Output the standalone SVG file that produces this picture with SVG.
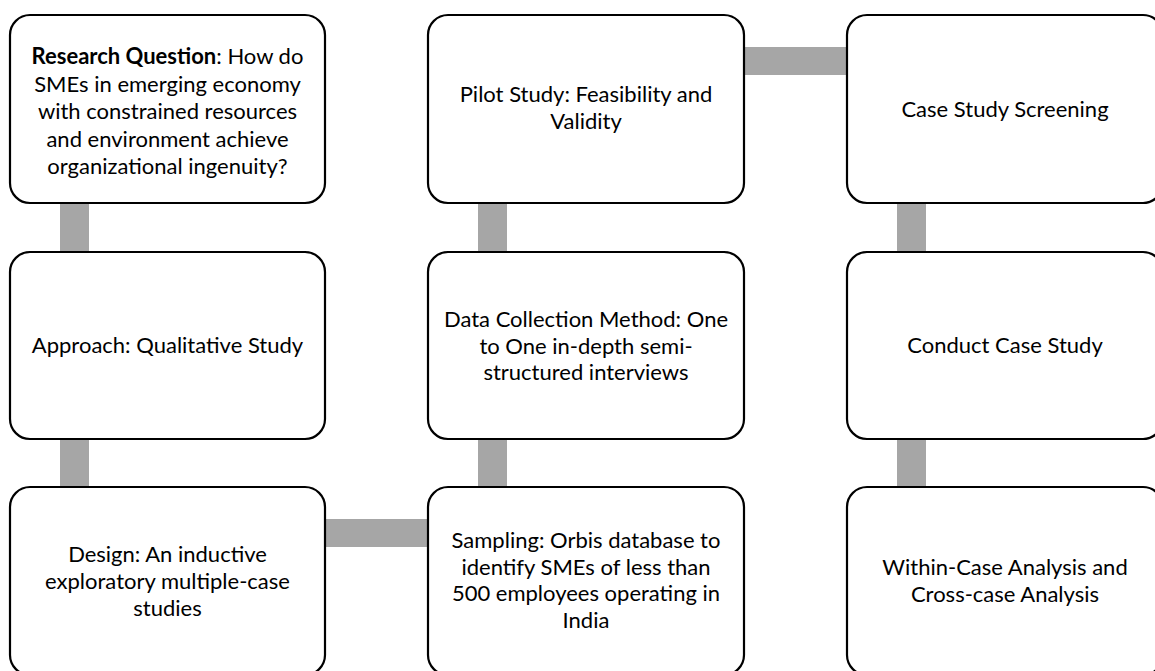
<svg xmlns="http://www.w3.org/2000/svg" width="1155" height="671" viewBox="0 0 1155 671">
  <style>
    .box { fill: #ffffff; stroke: #000000; stroke-width: 2.2; }
    .bar { fill: #a6a6a6; }
    text { font-family: "Lato", "Liberation Sans", sans-serif; font-size: 22px; fill: #000000; text-anchor: middle; }
    .b { font-weight: bold; }
  </style>
  <rect width="1155" height="671" fill="#ffffff"/>

  <!-- connectors: thick grey bars joining the steps -->
  <g id="connectors">
    <rect class="bar" x="60" y="200" width="29" height="55"/>
    <rect class="bar" x="60" y="436" width="29" height="54"/>
    <rect class="bar" x="322" y="519" width="109" height="28"/>
    <rect class="bar" x="478" y="436" width="29" height="54"/>
    <rect class="bar" x="478" y="200" width="29" height="55"/>
    <rect class="bar" x="741" y="47" width="109" height="28"/>
    <rect class="bar" x="897" y="200" width="29" height="55"/>
    <rect class="bar" x="897" y="436" width="29" height="54"/>
  </g>

  <g id="research-question">
    <rect class="box" x="10" y="15" width="315" height="188" rx="20"/>
    <text x="167.5" y="64"><tspan class="b">Research Question</tspan>: How do</text>
    <text x="167.5" y="91.5">SMEs in emerging economy</text>
    <text x="167.5" y="119">with constrained resources</text>
    <text x="167.5" y="146.5">and environment achieve</text>
    <text x="167.5" y="174">organizational ingenuity?</text>
  </g>

  <g id="approach">
    <rect class="box" x="10" y="252" width="315" height="187" rx="20"/>
    <text x="167.5" y="353">Approach: Qualitative Study</text>
  </g>

  <g id="design">
    <rect class="box" x="10" y="487" width="315" height="188" rx="20"/>
    <text x="167.5" y="562">Design: An inductive</text>
    <text x="167.5" y="589">exploratory multiple-case</text>
    <text x="167.5" y="616">studies</text>
  </g>

  <g id="sampling">
    <rect class="box" x="428" y="487" width="316" height="188" rx="20"/>
    <text x="586" y="548">Sampling: Orbis database to</text>
    <text x="586" y="574.5">identify SMEs of less than</text>
    <text x="586" y="601">500 employees operating in</text>
    <text x="586" y="627.5">India</text>
  </g>

  <g id="data-collection">
    <rect class="box" x="428" y="252" width="316" height="187" rx="20"/>
    <text x="586" y="327">Data Collection Method: One</text>
    <text x="586" y="353.5">to One in-depth semi-</text>
    <text x="586" y="380">structured interviews</text>
  </g>

  <g id="pilot-study">
    <rect class="box" x="428" y="15" width="316" height="188" rx="20"/>
    <text x="586" y="102">Pilot Study: Feasibility and</text>
    <text x="586" y="129">Validity</text>
  </g>

  <g id="case-screening">
    <rect class="box" x="847" y="15" width="316" height="188" rx="20"/>
    <text x="1005" y="117">Case Study Screening</text>
  </g>

  <g id="conduct-case">
    <rect class="box" x="847" y="252" width="316" height="187" rx="20"/>
    <text x="1005" y="353">Conduct Case Study</text>
  </g>

  <g id="analysis">
    <rect class="box" x="847" y="487" width="316" height="188" rx="20"/>
    <text x="1005" y="575">Within-Case Analysis and</text>
    <text x="1005" y="602">Cross-case Analysis</text>
  </g>
</svg>
